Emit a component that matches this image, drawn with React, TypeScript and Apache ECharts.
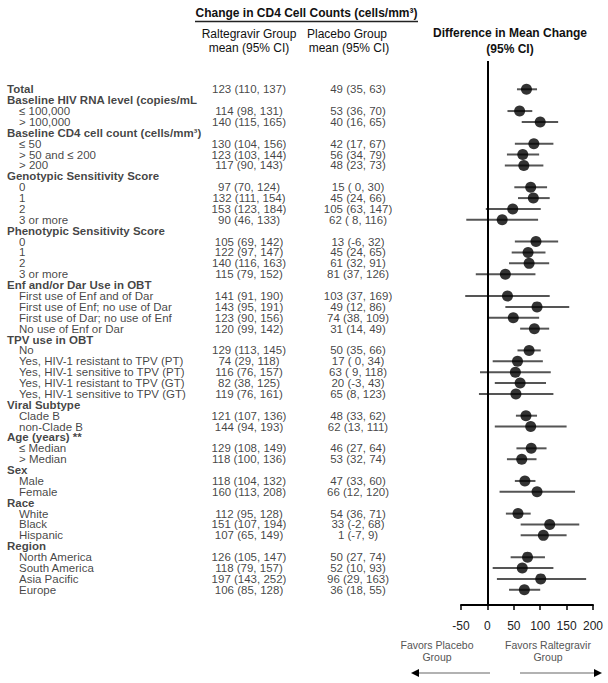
import React, { useEffect, useRef } from "react";
import * as echarts from "echarts";

const FONT = "'Liberation Sans', Arial, Helvetica, sans-serif";

const rowLabels = [
  "Total",
  "Baseline HIV RNA level (copies/mL",
  "≤ 100,000",
  "> 100,000",
  "Baseline CD4 cell count (cells/mm³)",
  "≤ 50",
  "> 50 and ≤ 200",
  "> 200",
  "Genotypic Sensitivity Score",
  "0",
  "1",
  "2",
  "3 or more",
  "Phenotypic Sensitivity Score",
  "0",
  "1",
  "2",
  "3 or more",
  "Enf and/or Dar Use in OBT",
  "First use of Enf and of Dar",
  "First use of Enf; no use of Dar",
  "First use of Dar; no use of Enf",
  "No use of Enf or Dar",
  "TPV use in OBT",
  "No",
  "Yes, HIV-1 resistant to TPV (PT)",
  "Yes, HIV-1 sensitive to TPV (PT)",
  "Yes, HIV-1 resistant to TPV (GT)",
  "Yes, HIV-1 sensitive to TPV (GT)",
  "Viral Subtype",
  "Clade B",
  "non-Clade B",
  "Age (years) **",
  "≤ Median",
  "> Median",
  "Sex",
  "Male",
  "Female",
  "Race",
  "White",
  "Black",
  "Hispanic",
  "Region",
  "North America",
  "South America",
  "Asia Pacific",
  "Europe",
];

const headerRows = [0, 1, 4, 8, 13, 18, 23, 29, 32, 35, 38, 42];

const raltegravirText = [
  "123 (110, 137)", null, "114 (98, 131)", "140 (115, 165)", null,
  "130 (104, 156)", "123 (103, 144)", "117 (90, 143)", null,
  "97 (70, 124)", "132 (111, 154)", "153 (123, 184)", "90 (46, 133)", null,
  "105 (69, 142)", "122 (97, 147)", "140 (116, 163)", "115 (79, 152)", null,
  "141 (91, 190)", "143 (95, 191)", "123 (90, 156)", "120 (99, 142)", null,
  "129 (113, 145)", "74 (29, 118)", "116 (76, 157)", "82 (38, 125)", "119 (76, 161)", null,
  "121 (107, 136)", "144 (94, 193)", null,
  "129 (108, 149)", "118 (100, 136)", null,
  "118 (104, 132)", "160 (113, 208)", null,
  "112 (95, 128)", "151 (107, 194)", "107 (65, 149)", null,
  "126 (105, 147)", "118 (79, 157)", "197 (143, 252)", "106 (85, 128)",
];

const placeboText = [
  "49 (35, 63)", null, "53 (36, 70)", "40 (16, 65)", null,
  "42 (17, 67)", "56 (34, 79)", "48 (23, 73)", null,
  "15 ( 0, 30)", "45 (24, 66)", "105 (63, 147)", "62 ( 8, 116)", null,
  "13 (-6, 32)", "45 (24, 65)", "61 (32, 91)", "81 (37, 126)", null,
  "103 (37, 169)", "49 (12, 86)", "74 (38, 109)", "31 (14, 49)", null,
  "50 (35, 66)", "17 ( 0, 34)", "63 ( 9, 118)", "20 (-3, 43)", "65 (8, 123)", null,
  "48 (33, 62)", "62 (13, 111)", null,
  "46 (27, 64)", "53 (32, 74)", null,
  "47 (33, 60)", "66 (12, 120)", null,
  "54 (36, 71)", "33 (-2, 68)", "1 (-7, 9)", null,
  "50 (27, 74)", "52 (10, 93)", "96 (29, 163)", "36 (18, 55)",
];

const diffMean = [
  74, null, 61, 100, null, 88, 67, 69, null, 82, 87, 48, 28, null,
  92, 77, 79, 34, null, 38, 94, 49, 89, null, 79, 57, 53, 62, 54, null,
  73, 82, null, 83, 65, null, 71, 94, null, 58, 118, 106, null, 76, 66, 101, 70,
];
const diffLow = [
  56, null, 38, 65, null, 52, 37, 33, null, 51, 58, -3, -40, null,
  52, 46, 41, -22, null, -42, 34, 0, 62, null, 57, 10, -14, 14, -16, null,
  54, 14, null, 55, 37, null, 52, 23, null, 35, 63, 63, null, 44, 10, 18, 41,
];
const diffHigh = [
  94, null, 85, 134, null, 125, 98, 106, null, 113, 118, 101, 96, null,
  134, 110, 117, 91, null, 118, 155, 98, 117, null, 101, 105, 120, 111, 125, null,
  94, 150, null, 112, 93, null, 91, 166, null, 82, 174, 150, null, 109, 125, 187, 100,
];

const X_MIN = -50;
const X_MAX = 200;
const X_INTERVAL = 50;

// layout constants (pixel columns for table text)
const COL_HEADER_X = 7;
const COL_ITEM_X = 19;
const COL_RALT_X = 249;
const COL_PLAC_X = 358;

const Y_MIN = -2.6;
const Y_MAX = 47.4;

export default function App() {
  const ref = useRef<HTMLDivElement>(null);

  useEffect(() => {
    if (!ref.current) return;
    const chart = echarts.init(ref.current, undefined, { renderer: "svg" });

    const tableData: any[] = [];
    rowLabels.forEach((lab, i) => {
      const isHeader = headerRows.includes(i);
      tableData.push({
        name: lab,
        value: [isHeader ? COL_HEADER_X : COL_ITEM_X, i],
        label: { align: "left", fontWeight: isHeader ? "bold" : "normal" },
      });
    });
    raltegravirText.forEach((t, i) => {
      if (t) tableData.push({ name: t, value: [COL_RALT_X, i], label: { align: "center" } });
    });
    placeboText.forEach((t, i) => {
      if (t) tableData.push({ name: t, value: [COL_PLAC_X, i], label: { align: "center" } });
    });

    const ciData: any[] = [];
    const dotData: any[] = [];
    diffMean.forEach((m, i) => {
      if (m === null) return;
      ciData.push([diffLow[i], diffHigh[i], i]);
      dotData.push([m, i]);
    });

    const option: any = {
      animation: false,
      textStyle: { fontFamily: FONT },
      grid: [
        { left: 461, width: 132, top: 61, height: 544 },
        { left: 0, width: 608, top: 61, height: 544 },
      ],
      xAxis: [
        {
          gridIndex: 0,
          type: "value",
          min: X_MIN,
          max: X_MAX,
          interval: X_INTERVAL,
          axisLine: { show: true, onZero: false, lineStyle: { color: "#000", width: 2 } },
          axisTick: { show: true, length: 5, lineStyle: { color: "#000", width: 1.5 } },
          axisLabel: { fontSize: 12, color: "#222", margin: 15, fontFamily: FONT },
          splitLine: { show: false },
        },
        { gridIndex: 1, type: "value", min: 0, max: 608, show: false },
      ],
      yAxis: [
        { gridIndex: 0, type: "value", min: Y_MIN, max: Y_MAX, inverse: true, show: false },
        { gridIndex: 1, type: "value", min: Y_MIN, max: Y_MAX, inverse: true, show: false },
      ],
      series: [
        {
          type: "scatter",
          xAxisIndex: 1,
          yAxisIndex: 1,
          symbolSize: 1,
          itemStyle: { color: "transparent" },
          silent: true,
          label: {
            show: true,
            position: "inside",
            verticalAlign: "middle",
            formatter: "{b}",
            fontSize: 11.5,
            lineHeight: 10,
            color: "#111",
            fontFamily: FONT,
          },
          data: tableData,
        },
        {
          type: "custom",
          xAxisIndex: 0,
          yAxisIndex: 0,
          encode: { x: [0, 1], y: 2 },
          renderItem: (_params: any, api: any) => {
            const a = api.coord([api.value(0), api.value(2)]);
            const b = api.coord([api.value(1), api.value(2)]);
            return {
              type: "line",
              shape: { x1: a[0], y1: a[1], x2: b[0], y2: b[1] },
              style: { stroke: "#555", lineWidth: 2 },
            };
          },
          data: ciData,
        },
        {
          type: "scatter",
          xAxisIndex: 0,
          yAxisIndex: 0,
          symbolSize: 11,
          itemStyle: { color: "#000" },
          data: dotData,
          markLine: {
            silent: true,
            symbol: "none",
            label: { show: false },
            lineStyle: { color: "#000", width: 2, type: "solid" },
            data: [{ xAxis: 0 }],
          },
        },
      ],
      graphic: [
        {
          type: "text",
          x: 306.5,
          y: 13,
          style: {
            text: "Change in CD4 Cell Counts (cells/mm³)",
            font: `bold 12px ${FONT}`,
            fill: "#111",
            align: "center",
            verticalAlign: "middle",
          },
        },
        {
          type: "line",
          shape: { x1: 195, y1: 21.5, x2: 418, y2: 21.5 },
          style: { stroke: "#222", lineWidth: 1.5 },
        },
        { type: "text", x: 249, y: 34, style: { text: "Raltegravir Group", font: `12px ${FONT}`, fill: "#111", align: "center", verticalAlign: "middle" } },
        { type: "text", x: 249, y: 48, style: { text: "mean (95% CI)", font: `12px ${FONT}`, fill: "#111", align: "center", verticalAlign: "middle" } },
        { type: "text", x: 347, y: 34, style: { text: "Placebo Group", font: `12px ${FONT}`, fill: "#111", align: "center", verticalAlign: "middle" } },
        { type: "text", x: 349, y: 48, style: { text: "mean (95% CI)", font: `12px ${FONT}`, fill: "#111", align: "center", verticalAlign: "middle" } },
        { type: "text", x: 510, y: 33, style: { text: "Difference in Mean Change", font: `bold 12px ${FONT}`, fill: "#111", align: "center", verticalAlign: "middle" } },
        { type: "text", x: 510, y: 49, style: { text: "(95% CI)", font: `bold 12px ${FONT}`, fill: "#111", align: "center", verticalAlign: "middle" } },
        { type: "text", x: 437, y: 645, style: { text: "Favors Placebo", font: `10.5px ${FONT}`, fill: "#555", align: "center", verticalAlign: "middle" } },
        { type: "text", x: 437, y: 657, style: { text: "Group", font: `10.5px ${FONT}`, fill: "#555", align: "center", verticalAlign: "middle" } },
        { type: "text", x: 548, y: 645, style: { text: "Favors Raltegravir", font: `10.5px ${FONT}`, fill: "#555", align: "center", verticalAlign: "middle" } },
        { type: "text", x: 548, y: 657, style: { text: "Group", font: `10.5px ${FONT}`, fill: "#555", align: "center", verticalAlign: "middle" } },
        { type: "line", shape: { x1: 418, y1: 673, x2: 490, y2: 673 }, style: { stroke: "#999", lineWidth: 1.5 } },
        { type: "polygon", shape: { points: [[411, 673], [419, 669], [419, 677]] }, style: { fill: "#000" } },
        { type: "line", shape: { x1: 520, y1: 673, x2: 595, y2: 673 }, style: { stroke: "#999", lineWidth: 1.5 } },
        { type: "polygon", shape: { points: [[602, 673], [594, 669], [594, 677]] }, style: { fill: "#000" } },
      ],
    };

    chart.setOption(option);
    return () => chart.dispose();
  }, []);

  return (
    <div
      ref={ref}
      style={{ position: "fixed", left: 0, top: 0, width: 608, height: 683, background: "#fff" }}
    />
  );
}
